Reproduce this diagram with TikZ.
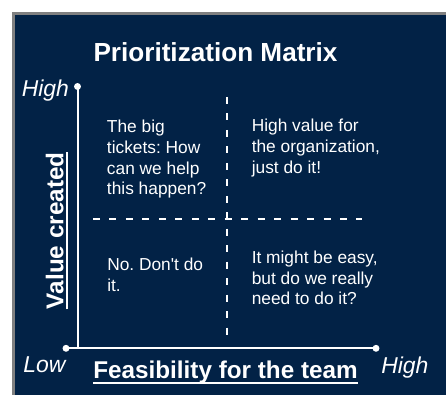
\documentclass[tikz,border=0pt]{standalone}
\usepackage{fontspec}
\setmainfont{Liberation Sans}
\usetikzlibrary{calc}
\definecolor{matrixbg}{RGB}{2,34,70}
\definecolor{framegrey}{RGB}{128,128,128}
\frenchspacing

\begin{document}
\begin{tikzpicture}[x=0.75pt,y=-0.75pt,
  quad/.style={anchor=base west,align=left,inner sep=0pt,text=white,font=\fontsize{13}{15.6}\selectfont},
  ends/.style={anchor=base west,inner sep=0pt,text=white,font=\fontsize{17.2}{20}\selectfont\itshape},
  axtitle/.style={anchor=base,inner sep=0pt,text=white,font=\fontsize{18.2}{22}\selectfont\bfseries},
  split/.style={white,line width=1.5pt,dash pattern=on 5.25pt off 7.1pt},
  axis/.style={white,line width=1.5pt},
  tip/.style={white,radius=2.6pt}]
\useasboundingbox (0,0) rectangle (446,395);
%\draw[help lines,step=20](0,0)grid(446,395);
% panel
\fill[white] (0,0) rectangle (446,395);
\fill[matrixbg] (12,12) rectangle (446,395);
\draw[framegrey,line width=2pt] (13.3,395)--(13.3,13.3)--(446,13.3);

\node[anchor=base,inner sep=0pt,text=white,font=\fontsize{19.6}{24}\selectfont\bfseries] (title) at (215.5,62) {Prioritization Matrix};

% axes
\coordinate (top) at (77.5,86.5);
\coordinate (corner) at (77.5,348.3);
\coordinate (left) at (66,348.3);
\coordinate (right) at (376,348.3);
\draw[axis] (top)--(corner);
\draw[axis] (left)--(right);
\fill[tip] (top) circle;
\fill[tip] (left) circle;
\fill[tip] (right) circle;

% quadrant split
\coordinate (vtop) at (227,97);
\coordinate (vbot) at (227,342);
\coordinate (hleft) at (93,219.3);
\coordinate (hright) at (362,219.3);
\draw[split] (vtop)--(vbot);
\draw[split] (hleft)--(hright);

% quadrant texts (anchored on the last line)
\node[quad] (bigtickets) at (106.7,195) {The big\\tickets: How\\can we help\\this happen?};
\node[quad] (doit) at (251.5,173.3) {High value for\\the organization,\\just do it!};
\node[quad] (dont) at (107,291.7) {No. Don\textquotesingle t do\\it.};
\node[quad] (easy) at (251.5,305) {It might be easy,\\but do we really\\need to do it?};

% axis labels
\node[ends] (ytop) at (21.5,97) {High};
\node[ends] (xlow) at (23,372.5) {Low};
\node[ends] (xhigh) at (381,373) {High};
\node[axtitle] (feas) at (225.5,378.5) {Feasibility for the team};
\draw[white,line width=1.5pt] ($(feas.base west)+(0,4.5)$)--($(feas.base east)+(0,4.5)$);
\node[axtitle,rotate=90] (value) at (63.3,230.8) {Value created};
\draw[white,line width=1.5pt] ($(value.base west)+(3.6,0)$)--($(value.base east)+(3.6,0)$);
\end{tikzpicture}
\end{document}
